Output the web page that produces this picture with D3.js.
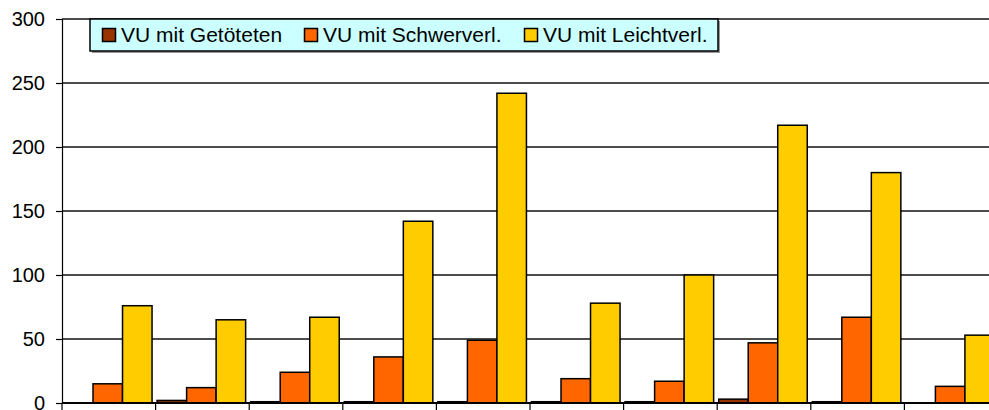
<!DOCTYPE html>
<html>
<head>
<meta charset="utf-8">
<script src="https://cdn.jsdelivr.net/npm/d3@7"></script>
<style>
  html, body { margin: 0; padding: 0; background: #fff; overflow: hidden; }
  svg { display: block; }
  text { font-family: "Liberation Sans", Arial, sans-serif; fill: #000; }
</style>
</head>
<body>
<svg id="chart" width="989" height="410"></svg>
<script>
// Unfälle nach Schwere, zehn Bereiche
const categories = ["1", "2", "3", "4", "5", "6", "7", "8", "9", "10"];
const seriesNames = ["VU mit Getöteten", "VU mit Schwerverl.", "VU mit Leichtverl."];
const getoetete   = [0, 2, 1, 1, 1, 1, 1, 3, 1, 0];
const schwerverl  = [15, 12, 24, 36, 49, 19, 17, 47, 67, 13];
const leichtverl  = [76, 65, 67, 142, 242, 78, 100, 217, 180, 53];
const yTicks = [0, 50, 100, 150, 200, 250, 300];
const seriesColors = ["#993300", "#FF6600", "#FFCC00"];

const seriesValues = [getoetete, schwerverl, leichtverl];
const rows = categories.map((c, i) => ({
  cat: c,
  vals: seriesNames.map((s, k) => ({ key: s, value: seriesValues[k][i] }))
}));

const svg = d3.select("#chart");
const plotLeft = 62, plotRight = 998, plotTop = 19, plotBottom = 403;

const y = d3.scaleLinear().domain([0, 300]).range([plotBottom, plotTop]);
const x0 = d3.scaleBand().domain(categories).range([plotLeft, plotRight]).padding(0);
const bw = x0.bandwidth();
const x1 = d3.scaleBand().domain(seriesNames).range([bw * 0.016, bw * 0.962]).padding(0);
const color = d3.scaleOrdinal().domain(seriesNames).range(seriesColors);

// Gitterlinien
svg.append("g")
  .selectAll("line")
  .data(yTicks.filter(t => t > 0))
  .join("line")
  .attr("x1", plotLeft).attr("x2", 989)
  .attr("y1", d => y(d)).attr("y2", d => y(d))
  .attr("stroke", "#111").attr("stroke-width", 1.4);

// Balken
const groups = svg.append("g")
  .selectAll("g")
  .data(rows)
  .join("g")
  .attr("transform", d => `translate(${x0(d.cat)},0)`);

groups.selectAll("rect")
  .data(d => d.vals)
  .join("rect")
  .attr("x", d => x1(d.key))
  .attr("width", x1.bandwidth())
  .attr("y", d => y(d.value))
  .attr("height", d => plotBottom - y(d.value))
  .attr("fill", d => color(d.key))
  .attr("stroke", "#000")
  .attr("stroke-width", 1.5);

// Y-Achse
const yAxis = d3.axisLeft(y).tickValues(yTicks).tickSize(6).tickPadding(11).tickFormat(d3.format("d"));
const gy = svg.append("g").attr("transform", `translate(${plotLeft},0)`).call(yAxis);
gy.select(".domain").attr("stroke", "#000").attr("stroke-width", 1.2);
gy.selectAll(".tick line").attr("stroke", "#000").attr("stroke-width", 1.2);
gy.selectAll(".tick text")
  .style("font-family", "'Liberation Sans', Arial, sans-serif")
  .style("font-size", "20px")
  .attr("fill", "#000");

// X-Achse mit Trennstrichen zwischen den Gruppen
const boundaries = categories.map(c => x0(c)).concat([plotRight]);
const gx = svg.append("g");
gx.append("line")
  .attr("x1", plotLeft).attr("x2", 989)
  .attr("y1", plotBottom).attr("y2", plotBottom)
  .attr("stroke", "#000").attr("stroke-width", 2);
gx.selectAll("line.tk")
  .data(boundaries)
  .join("line")
  .attr("class", "tk")
  .attr("x1", d => d).attr("x2", d => d)
  .attr("y1", plotBottom).attr("y2", plotBottom + 7)
  .attr("stroke", "#000").attr("stroke-width", 1.2);

// Legende
const lg = svg.append("g").attr("transform", "translate(90,19)");
lg.append("rect")
  .attr("x", 2).attr("y", 2).attr("width", 628).attr("height", 32)
  .attr("fill", "#999");
lg.append("rect")
  .attr("width", 628).attr("height", 32)
  .attr("fill", "#CCFFFF").attr("stroke", "#000").attr("stroke-width", 1.5);
const itemX = [12, 214, 434];
const items = lg.selectAll("g.item")
  .data(seriesNames)
  .join("g")
  .attr("class", "item")
  .attr("transform", (d, i) => `translate(${itemX[i]},0)`);
items.append("rect")
  .attr("x", 0.5).attr("y", 9.5).attr("width", 13).attr("height", 13)
  .attr("fill", d => color(d)).attr("stroke", "#000").attr("stroke-width", 1.5);
items.append("text")
  .attr("x", 19).attr("y", 22.5)
  .style("font-size", "21px")
  .text(d => d);
</script>
</body>
</html>
